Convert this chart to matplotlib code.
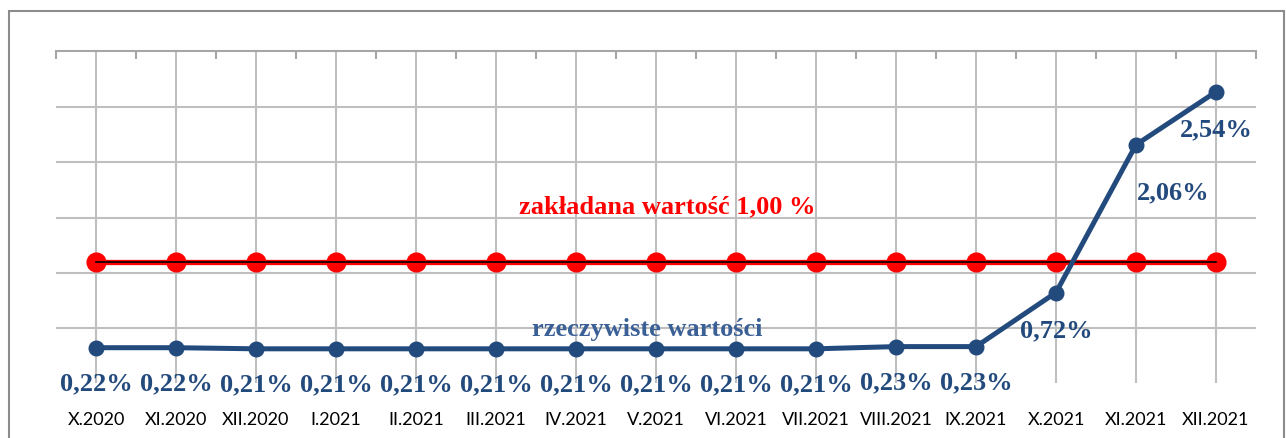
#!/usr/bin/env python3
import matplotlib
matplotlib.use('Agg')
import matplotlib.pyplot as plt
from matplotlib.patches import Rectangle

# Data
months = ['X.2020', 'XI.2020', 'XII.2020', 'I.2021', 'II.2021', 'III.2021',
          'IV.2021', 'V.2021', 'VI.2021', 'VII.2021', 'VIII.2021', 'IX.2021',
          'X.2021', 'XI.2021', 'XII.2021']
actual = [0.22, 0.22, 0.21, 0.21, 0.21, 0.21, 0.21, 0.21, 0.21, 0.21,
          0.23, 0.23, 0.72, 2.06, 2.54]
target = [1.00] * len(months)
actual_labels = ['0,22%', '0,22%', '0,21%', '0,21%', '0,21%', '0,21%',
                 '0,21%', '0,21%', '0,21%', '0,21%', '0,23%', '0,23%',
                 '0,72%', '2,06%', '2,54%']

BLUE = '#234A7D'
SERIF = ['Liberation Serif', 'DejaVu Serif']

fig = plt.figure(figsize=(12.86, 4.39), dpi=100)
ax = fig.add_axes([56 / 1286, 1 - 384 / 439, 1200 / 1286, 332 / 439])

# outer frame
fig.patches.append(Rectangle((9 / 1286, -0.05), 1275 / 1286, 1 - 12 / 439 + 0.05,
                             transform=fig.transFigure, fill=False,
                             edgecolor='#8C8C8C', linewidth=1.5))

x = list(range(len(months)))

# target line (red with black core)
ax.plot(x, target, color='#FF0000', linewidth=3.8, marker='o', markersize=13.5,
        markerfacecolor='#FF0000', markeredgecolor='#FF0000', zorder=3)
ax.plot(x, target, color='black', linewidth=1.2, zorder=4)

# actual values
ax.plot(x, actual, color=BLUE, linewidth=3.6, marker='o', markersize=10.5,
        markerfacecolor=BLUE, markeredgecolor=BLUE, zorder=5)

# data labels
for i, (v, lab) in enumerate(zip(actual, actual_labels)):
    dx, dy = 0, -35
    if lab == '2,06%':
        dx, dy = 37, -47
    elif i in (12, 14):
        dx, dy = 0, -37
    ax.annotate(lab, (i, v), xytext=(dx, dy), textcoords='offset pixels',
                ha='center', va='center', fontsize=19, fontweight='bold',
                family=SERIF, color=BLUE, zorder=6)

ax.text(7.14, 1.51, 'zakładana wartość 1,00 %', ha='center', va='center',
        fontsize=19, fontweight='bold', family=SERIF, color='#FF0000')
ax.text(6.89, 0.39, 'rzeczywiste wartości', ha='center', va='center',
        fontsize=19, fontweight='bold', family=SERIF, color='#3A6096')

ax.set_xlim(-0.5, len(months) - 0.5)
ax.set_ylim(-0.1, 2.91)
ax.set_yticks([0.4, 0.9, 1.4, 1.9, 2.4])
ax.set_yticklabels([])
ax.tick_params(axis='y', length=0)
ax.set_xticks(x)
ax.set_xticklabels(months, fontsize=13, family=['Lato', 'DejaVu Sans'])
ax.tick_params(axis='x', length=0, pad=20)
ax.set_xticks([i - 0.5 for i in range(len(months) + 1)], minor=True)
ax.tick_params(axis='x', which='minor', length=6, direction='in', top=True,
               bottom=False, color='#A6A6A6', width=1.5)

ax.grid(True, which='major', color='#BFBFBF', linewidth=1.5, zorder=0)
ax.set_axisbelow(True)
for side in ('left', 'right', 'bottom'):
    ax.spines[side].set_visible(False)
ax.spines['top'].set_color('#A6A6A6')
ax.spines['top'].set_linewidth(1.5)

fig.savefig('out.png', dpi=100)
